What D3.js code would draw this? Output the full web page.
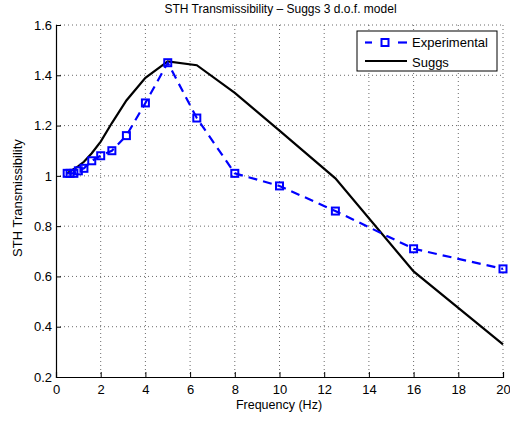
<!DOCTYPE html>
<meta charset="utf-8">
<script src="https://d3js.org/d3.v7.min.js"></script>
<style>
  body { margin: 0; background: #fff; }
  text { font-family: "Liberation Sans", Arial, sans-serif; }
</style>
<div id="chart"></div>
<script>
    // data (third-octave centre frequencies)
    const freqs = [0.5, 0.63, 0.8, 1, 1.25, 1.6, 2, 2.5, 3.15, 4, 5, 6.3, 8, 10, 12.5, 16, 20];
    const experimental = [1.01, 1.01, 1.01, 1.02, 1.03, 1.06, 1.08, 1.10, 1.16, 1.29, 1.45, 1.23, 1.01, 0.96, 0.86, 0.71, 0.63];
    const suggs = [1.01, 1.018, 1.027, 1.039, 1.056, 1.09, 1.136, 1.21, 1.30, 1.39, 1.455, 1.44, 1.33, 1.18, 0.99, 0.62, 0.33];
    const xTicks = [0, 2, 4, 6, 8, 10, 12, 14, 16, 18, 20];
    const yTicks = [0.2, 0.4, 0.6, 0.8, 1, 1.2, 1.4, 1.6];

    const margin = {top: 25, right: 7, bottom: 44, left: 56},
        width = 510 - margin.left - margin.right,
        height = 421 - margin.top - margin.bottom;

    const svg = d3.select("#chart")
        .append("svg")
        .attr("width", 510)
        .attr("height", 421);

    const g = svg.append("g")
        .attr("transform", `translate(${margin.left}, ${margin.top})`);

    const x = d3.scaleLinear().domain([0, 20]).range([0, width]);
    const y = d3.scaleLinear().domain([0.2, 1.6]).range([height, 0]);

    // dotted grid
    g.append("g").selectAll("line")
        .data(xTicks.slice(1))
        .join("line")
        .attr("x1", d => x(d)).attr("x2", d => x(d))
        .attr("y1", 0).attr("y2", height)
        .attr("stroke", "#444").attr("stroke-width", 0.8)
        .attr("stroke-dasharray", "1,3");
    g.append("g").selectAll("line")
        .data(yTicks.slice(1))
        .join("line")
        .attr("x1", 0).attr("x2", width)
        .attr("y1", d => y(d)).attr("y2", d => y(d))
        .attr("stroke", "#444").attr("stroke-width", 0.8)
        .attr("stroke-dasharray", "1,3");

    // axes, ticks pointing inward
    const xAxis = g.append("g")
        .attr("transform", `translate(0, ${height})`)
        .call(d3.axisBottom(x).tickValues(xTicks).tickSize(-5).tickPadding(8).tickFormat(d3.format("d")));
    const yAxis = g.append("g")
        .call(d3.axisLeft(y).tickValues(yTicks).tickSize(-5).tickPadding(4).tickFormat(d => d === 1 ? "1" : d3.format(".1f")(d)));
    [xAxis, yAxis].forEach(a => {
        a.select(".domain").attr("stroke", "#000").attr("stroke-width", 1.2);
        a.selectAll(".tick line").attr("stroke", "#000");
        a.selectAll("text").attr("font-size", 13).attr("fill", "#000")
            .style("font-family", "'Liberation Sans', Arial, sans-serif");
    });

    // Suggs line
    const line = d3.line().x(d => x(d[0])).y(d => y(d[1]));
    g.append("path")
        .datum(freqs.map((f, i) => [f, suggs[i]]))
        .attr("fill", "none")
        .attr("stroke", "#000")
        .attr("stroke-width", 2.2)
        .attr("d", line);

    // Experimental dashed line + square markers
    const expData = freqs.map((f, i) => [f, experimental[i]]);
    g.append("path")
        .datum(expData)
        .attr("fill", "none")
        .attr("stroke", "#0000ff")
        .attr("stroke-width", 2.2)
        .attr("stroke-dasharray", "9,6")
        .attr("d", line);
    g.append("g").selectAll("rect")
        .data(expData)
        .join("rect")
        .attr("x", d => x(d[0]) - 3.5)
        .attr("y", d => y(d[1]) - 3.5)
        .attr("width", 7).attr("height", 7)
        .attr("fill", "none")
        .attr("stroke", "#0000ff")
        .attr("stroke-width", 2);

    // title and labels
    svg.append("text")
        .attr("x", 280.5).attr("y", 13)
        .attr("text-anchor", "middle")
        .attr("font-size", 12)
        .text("STH Transmissibility \u2013 Suggs 3 d.o.f. model");
    svg.append("text")
        .attr("x", 279).attr("y", 408.5)
        .attr("text-anchor", "middle")
        .attr("font-size", 12.5)
        .text("Frequency (Hz)");
    svg.append("text")
        .attr("transform", "translate(21.5, 198) rotate(-90)")
        .attr("text-anchor", "middle")
        .attr("font-size", 13)
        .text("STH Transmissibility");

    // legend
    const legend = svg.append("g").attr("transform", "translate(357, 31)");
    legend.append("rect")
        .attr("width", 140).attr("height", 40)
        .attr("fill", "#fff").attr("stroke", "#000").attr("stroke-width", 1);
    legend.append("line")
        .attr("x1", 8).attr("x2", 15).attr("y1", 11.5).attr("y2", 11.5)
        .attr("stroke", "#0000ff").attr("stroke-width", 2.2);
    legend.append("line")
        .attr("x1", 41).attr("x2", 50).attr("y1", 11.5).attr("y2", 11.5)
        .attr("stroke", "#0000ff").attr("stroke-width", 2.2);
    legend.append("rect")
        .attr("x", 24.5).attr("y", 8).attr("width", 7).attr("height", 7)
        .attr("fill", "none").attr("stroke", "#0000ff").attr("stroke-width", 2);
    legend.append("line")
        .attr("x1", 8).attr("x2", 50).attr("y1", 30).attr("y2", 30)
        .attr("stroke", "#000").attr("stroke-width", 2.2);
    legend.append("text").attr("x", 55).attr("y", 15.7).attr("font-size", 13).text("Experimental");
    legend.append("text").attr("x", 55).attr("y", 35.7).attr("font-size", 13).text("Suggs");
</script>
